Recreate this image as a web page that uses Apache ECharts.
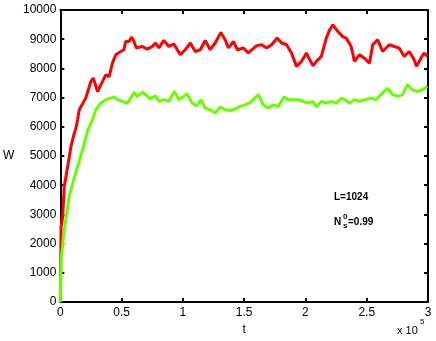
<!DOCTYPE html>
<html><head><meta charset="utf-8">
<script src="https://cdn.jsdelivr.net/npm/echarts@6/dist/echarts.min.js"></script>
<style>html,body{margin:0;padding:0;background:#fff}#c{width:436px;height:341px}</style>
</head><body><div id="c"></div>
<script>
// t in units of 10^5
const xTicks = [0, 0.5, 1, 1.5, 2, 2.5, 3];
const yTicks = [0,1000,2000,3000,4000,5000,6000,7000,8000,9000,10000];

const tRed = [0,0.004,0.006,0.019,0.032,0.046,0.060,0.087,0.114,0.127,0.141,0.154,0.209,0.249,0.268,0.304,0.344,0.371,0.398,0.425,0.452,0.493,0.519,0.533,0.560,0.582,0.601,0.620,0.669,0.709,0.750,0.777,0.804,0.844,0.885,0.925,0.980,1.020,1.061,1.101,1.142,1.182,1.223,1.263,1.310,1.345,1.372,1.412,1.445,1.494,1.534,1.548,1.602,1.643,1.683,1.724,1.769,1.805,1.846,1.886,1.927,1.968,2.008,2.035,2.062,2.089,2.130,2.170,2.197,2.224,2.265,2.305,2.333,2.373,2.400,2.441,2.481,2.522,2.549,2.589,2.630,2.684,2.725,2.765,2.806,2.847,2.887,2.906,2.942,2.968,2.995];
const wRed = [0,1700,2590,2900,3960,4300,4640,5330,5780,5950,6240,6580,7000,7550,7670,7210,7550,7780,7720,8180,8470,8580,8640,8920,8920,9070,8920,8700,8750,8660,8750,8870,8700,8960,8750,8840,8470,8640,8870,8580,8640,8960,8640,8870,9230,8980,8700,8920,8640,8700,8530,8530,8780,8810,8700,8810,9040,8870,8810,8530,8070,8240,8530,8300,8090,8240,8410,9040,9320,9490,9260,9090,9040,8750,8240,8470,8350,8180,8810,8980,8580,8810,8750,8700,8410,8580,8300,8070,8350,8530,8410];

const tGreen = [0,0.006,0.032,0.073,0.101,0.141,0.182,0.222,0.263,0.290,0.330,0.371,0.412,0.438,0.466,0.506,0.547,0.574,0.601,0.628,0.669,0.696,0.736,0.777,0.804,0.844,0.885,0.931,0.966,1.006,1.034,1.075,1.115,1.148,1.183,1.223,1.263,1.304,1.345,1.385,1.426,1.466,1.507,1.542,1.575,1.615,1.656,1.696,1.737,1.778,1.826,1.859,1.899,1.940,1.981,2.021,2.062,2.089,2.130,2.170,2.211,2.252,2.292,2.319,2.360,2.400,2.441,2.481,2.536,2.576,2.617,2.670,2.711,2.752,2.792,2.833,2.873,2.914,2.955,2.995];
const wGreen = [0,1440,2470,3610,4070,4640,5210,5850,6250,6580,6810,6930,6980,7020,6930,6870,6810,6980,7180,7040,7180,7100,6950,7060,6870,6930,6870,7210,6930,7040,7130,6810,6720,6930,6640,6580,6470,6680,6580,6560,6610,6700,6750,6810,6930,7100,6750,6640,6750,6700,7020,6930,6930,6930,6870,6810,6870,6680,6870,6810,6870,6810,6980,6930,6810,6930,6870,6930,6980,6930,7100,7320,7100,7040,7100,7440,7270,7210,7270,7380];

const zip = (a, b) => a.map((v, i) => [v, b[i]]);
const FONT = 'Liberation Sans, Arial, Helvetica, sans-serif';
const lineBlack = {show: true, onZero: false, lineStyle: {color: '#000', width: 2}};
const tickIn = {show: true, inside: true, length: 4, lineStyle: {color: '#000', width: 2}};

const chart = echarts.init(document.getElementById('c'), null, {renderer: 'canvas'});
chart.setOption({
  animation: false,
  backgroundColor: '#fff',
  grid: {left: 59, right: 8, top: 10, bottom: 39, containLabel: false},
  xAxis: [{
    type: 'value', min: xTicks[0], max: xTicks[xTicks.length - 1], interval: 0.5,
    axisLine: lineBlack, axisTick: tickIn, splitLine: {show: false},
    axisLabel: {color: '#000', fontSize: 12, fontFamily: FONT, margin: 5, formatter: v => String(v)},
    name: 't', nameLocation: 'middle', nameGap: 19,
    nameTextStyle: {color: '#000', fontSize: 12, fontFamily: FONT}
  }, {
    type: 'value', position: 'top', min: xTicks[0], max: xTicks[xTicks.length - 1], interval: 0.5,
    axisLine: lineBlack, axisTick: tickIn, axisLabel: {show: false}, splitLine: {show: false}
  }],
  yAxis: [{
    type: 'value', min: yTicks[0], max: yTicks[yTicks.length - 1], interval: 1000,
    axisLine: lineBlack, axisTick: tickIn, splitLine: {show: false},
    axisLabel: {color: '#000', fontSize: 12, fontFamily: FONT, margin: 4, formatter: v => String(v)},
    name: 'W', nameLocation: 'middle', nameGap: 46, nameRotate: 0,
    nameTextStyle: {color: '#000', fontSize: 12, fontFamily: FONT}
  }, {
    type: 'value', position: 'right', min: yTicks[0], max: yTicks[yTicks.length - 1], interval: 1000,
    axisLine: lineBlack, axisTick: tickIn, axisLabel: {show: false}, splitLine: {show: false}
  }],
  series: [{
    type: 'line', data: zip(tRed, wRed), showSymbol: false, symbol: 'none',
    lineStyle: {color: '#ff0000', width: 3}, itemStyle: {color: '#ff0000'}, z: 3
  }, {
    type: 'line', data: zip(tGreen, wGreen), showSymbol: false, symbol: 'none',
    lineStyle: {color: '#66ff00', width: 3}, itemStyle: {color: '#66ff00'}, z: 4
  }],
  graphic: [
    {type: 'text', left: 397, top: 325, style: {text: 'x 10', fill: '#000', font: '11px ' + FONT}},
    {type: 'text', left: 420, top: 318, style: {text: '5', fill: '#000', font: '8px ' + FONT}},
    {type: 'text', left: 334, top: 192, style: {text: 'L=1024', fill: '#000', font: 'bold 10px ' + FONT}},
    {type: 'text', left: 334, top: 217, style: {text: 'N', fill: '#000', font: 'bold 10px ' + FONT}},
    {type: 'text', left: 343, top: 213, style: {text: '0', fill: '#000', font: 'bold 8px ' + FONT}},
    {type: 'text', left: 343, top: 222, style: {text: 's', fill: '#000', font: 'bold 8px ' + FONT}},
    {type: 'text', left: 348, top: 217, style: {text: '=0.99', fill: '#000', font: 'bold 10px ' + FONT}}
  ]
});
</script></body></html>
